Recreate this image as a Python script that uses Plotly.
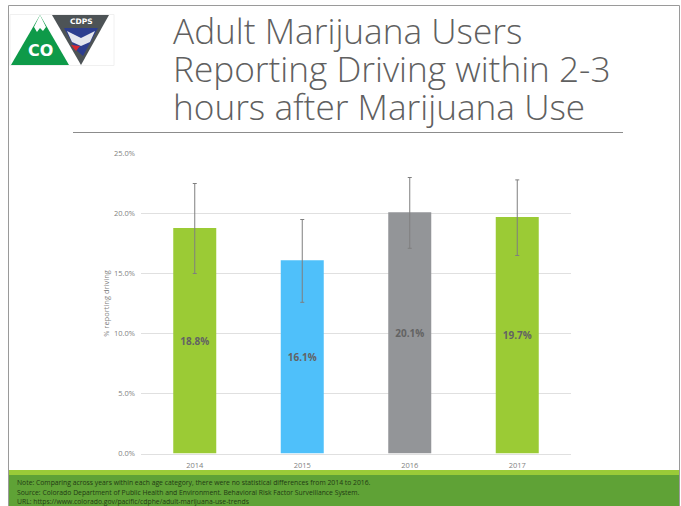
import plotly.graph_objects as go

W, H = 681, 506
years = ["2014", "2015", "2016", "2017"]
values = [18.8, 16.1, 20.1, 19.7]
upper = [22.5, 19.5, 23.0, 22.8]
lower = [15.0, 12.6, 17.1, 16.5]
labels = ["18.8%", "16.1%", "20.1%", "19.7%"]
bar_colors = ["#9BCB35", "#4FC0FA", "#939598", "#9BCB35"]
title_lines = ["Adult Marijuana Users", "Reporting Driving within 2-3", "hours after Marijuana Use"]
notes = [
    "Note: Comparing across years within each age category, there were no statistical differences from 2014 to 2016.",
    "Source: Colorado Department of Public Health and Environment. Behavioral Risk Factor Surveillance System.",
    "URL: https://www.colorado.gov/pacific/cdphe/adult-marijuana-use-trends",
]
FONT = "Open Sans, Noto Sans, sans-serif"

def X(p): return p / W
def Y(p): return 1 - p / H

def rect(x0, y0, x1, y1, fill, line=None, layer="below"):
    return dict(type="rect", xref="paper", yref="paper", x0=X(x0), x1=X(x1), y0=Y(y0), y1=Y(y1),
                fillcolor=fill, line=dict(color=line or fill, width=1 if line else 0), layer=layer)

def poly(pts, fill, layer="above"):
    d = "M" + " L".join(f"{X(a):.5f},{Y(b):.5f}" for a, b in pts) + " Z"
    return dict(type="path", xref="paper", yref="paper", path=d, fillcolor=fill, line=dict(width=0), layer=layer)

fig = go.Figure(go.Bar(
    x=years, y=values, width=0.4,
    marker=dict(color=bar_colors, line=dict(width=0)),
    text=labels, textposition="inside", insidetextanchor="middle", textangle=0,
    textfont=dict(family=FONT, size=10, color="#636363", weight="bold"),
    error_y=dict(type="data", symmetric=False,
                 array=[u - v for u, v in zip(upper, values)],
                 arrayminus=[v - l for v, l in zip(values, lower)],
                 color="#7F7F7F", thickness=1, width=2),
    hoverinfo="skip",
))

shapes = [
    # slide frame
    rect(8.5, 5.5, 679.5, 510, "rgba(0,0,0,0)", line="#9A9A9A"),
    # footer
    rect(9, 470, 679, 475, "#9ACB38"),
    rect(9, 475, 679, 506, "#5FA236"),
    # title rule
    dict(type="line", xref="paper", yref="paper", x0=X(73), x1=X(623), y0=Y(132.5), y1=Y(132.5), line=dict(color="#8C8C8C", width=1)),
    # logo
    rect(10, 14.5, 114, 65.5, "#FFFFFF", line="#F0F0F0"),
    poly([(11, 65), (40, 15), (69, 65)], "#0E9A49"),
    poly([(34, 27), (40, 15), (46, 27), (43, 31), (40, 28), (37, 32)], "#FFFFFF"),
    poly([(52, 15), (109, 15), (81, 65)], "#4D5356"),
    poly([(64, 28), (98, 28), (83, 56), (76, 50)], "#2D3E8F"),
    poly([(71, 45), (80, 46), (76, 51)], "#D9262E"),
    poly([(67, 31), (81, 38), (95, 31), (90, 42), (81, 46), (72, 42)], "#E4E6EE"),
]

annotations = []
for i, line in enumerate(title_lines):
    annotations.append(dict(text=line, x=X(171), y=Y(30.5 + 37.5 * i), xref="paper", yref="paper",
                            xanchor="left", yanchor="middle", showarrow=False,
                            font=dict(family=FONT, size=35.2, color="#606060", weight=300)))
for i, line in enumerate(notes):
    annotations.append(dict(text=line, x=X(15), y=Y(482.5 + 9.5 * i), xref="paper", yref="paper",
                            xanchor="left", yanchor="middle", showarrow=False,
                            font=dict(family=FONT, size=6.8, color="#1F3A14")))
annotations.append(dict(text="CO", x=X(40), y=Y(51), xref="paper", yref="paper", showarrow=False,
                        xanchor="center", yanchor="middle",
                        font=dict(family="DejaVu Sans", size=16, color="#FFFFFF", weight="bold")))
annotations.append(dict(text="CDPS", x=X(81), y=Y(21.5), xref="paper", yref="paper", showarrow=False,
                        xanchor="center", yanchor="middle",
                        font=dict(family="DejaVu Sans", size=7.5, color="#FFFFFF", weight="bold")))

fig.update_layout(
    width=W, height=H, margin=dict(l=0, r=0, t=0, b=0, autoexpand=False),
    paper_bgcolor="#FFFFFF", plot_bgcolor="#FFFFFF", showlegend=False,
    shapes=shapes, annotations=annotations,
    xaxis=dict(domain=[X(141), X(571)], tickfont=dict(family=FONT, size=7.5, color="#7F7F7F"),
               showline=True, linecolor="#E0E0E0", linewidth=1, ticks="", showgrid=False,
               anchor="y", type="category", ticklabelstandoff=4),
    yaxis=dict(domain=[Y(453.5), Y(153.5)], range=[0, 25], tickvals=[0, 5, 10, 15, 20, 25],
               ticktext=["0.0%", "5.0%", "10.0%", "15.0%", "20.0%", "25.0%"],
               tickfont=dict(family=FONT, size=7.5, color="#7F7F7F"), ticklabelstandoff=5,
               gridcolor="#E0E0E0", gridwidth=1, zeroline=False, ticks="", ticklen=0,
               title=dict(text="% reporting driving", standoff=3,
                          font=dict(family=FONT, size=7.5, color="#7F7F7F"))),
)
fig.write_html("out.html", config=dict(displayModeBar=False),
               post_script="document.body.style.margin='0';document.documentElement.style.overflow='hidden';")
